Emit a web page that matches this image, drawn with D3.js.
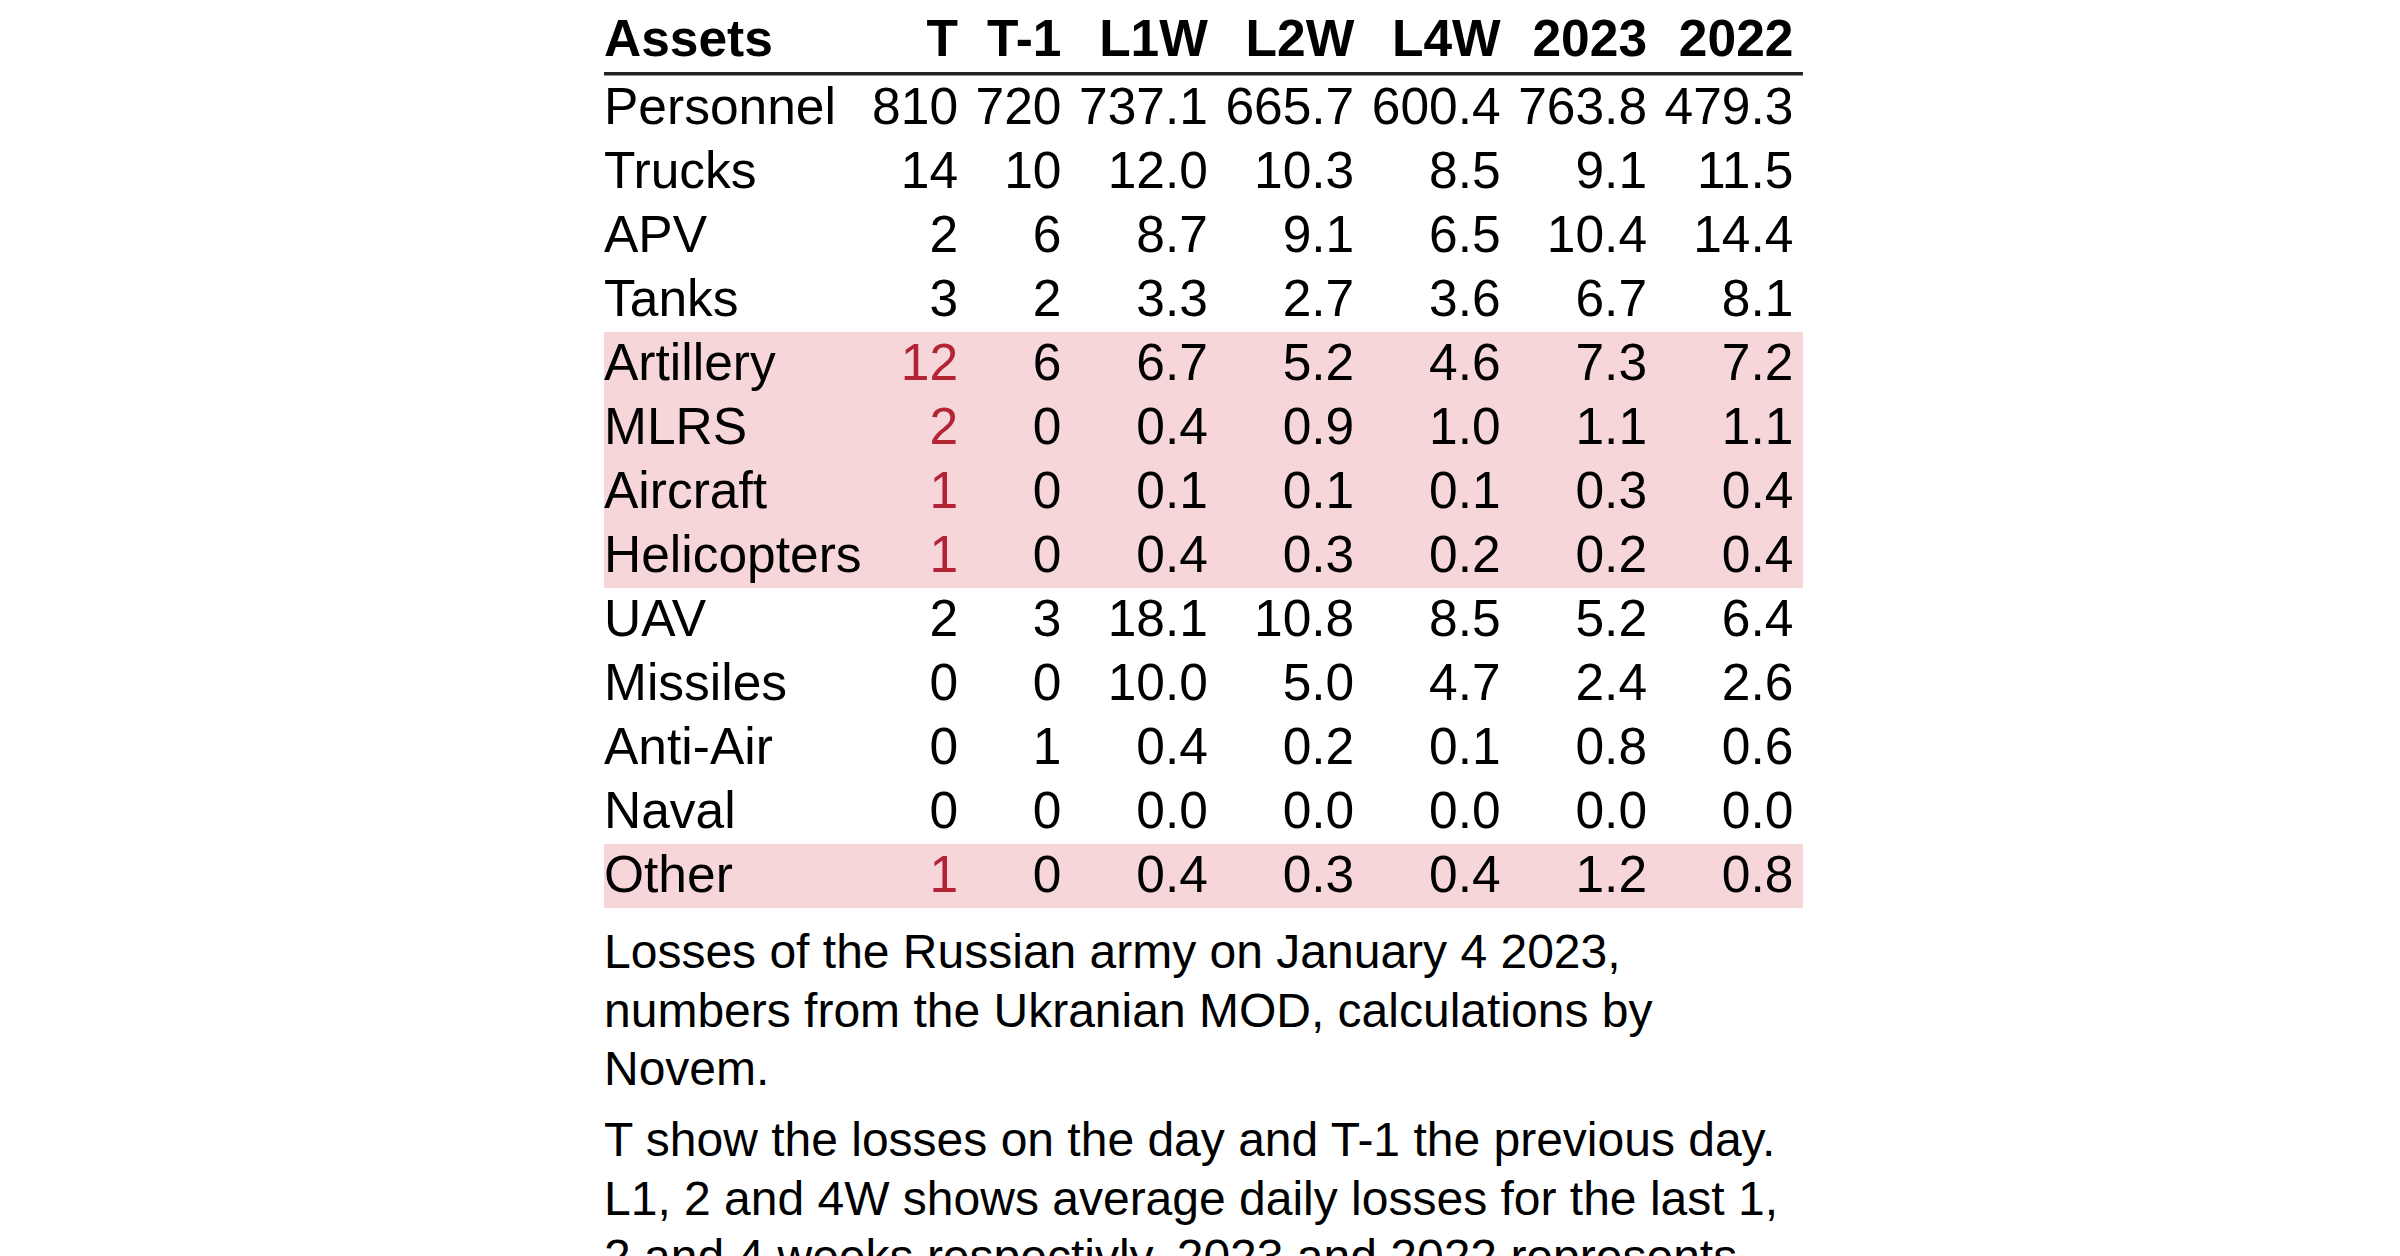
<!DOCTYPE html>
<html>
<head>
<meta charset="utf-8">
<script src="https://cdn.jsdelivr.net/npm/d3@7"></script>
<style>
  html, body { margin: 0; padding: 0; background: #fff; }
  svg { display: block; font-family: "Liberation Sans", Arial, sans-serif; }
</style>
</head>
<body>
<svg id="chart"></svg>
<script>
// table data
const assets = ["Personnel", "Trucks", "APV", "Tanks", "Artillery", "MLRS", "Aircraft",
    "Helicopters", "UAV", "Missiles", "Anti-Air", "Naval", "Other"];
const columns = ["T", "T-1", "L1W", "L2W", "L4W", "2023", "2022"];
const valT    = [810, 14, 2, 3, 12, 2, 1, 1, 2, 0, 0, 0, 1];
const valT1   = [720, 10, 6, 2, 6, 0, 0, 0, 3, 0, 1, 0, 0];
const valL1W  = [737.1, 12.0, 8.7, 3.3, 6.7, 0.4, 0.1, 0.4, 18.1, 10.0, 0.4, 0.0, 0.4];
const valL2W  = [665.7, 10.3, 9.1, 2.7, 5.2, 0.9, 0.1, 0.3, 10.8, 5.0, 0.2, 0.0, 0.3];
const valL4W  = [600.4, 8.5, 6.5, 3.6, 4.6, 1.0, 0.1, 0.2, 8.5, 4.7, 0.1, 0.0, 0.4];
const val2023 = [763.8, 9.1, 10.4, 6.7, 7.3, 1.1, 0.3, 0.2, 5.2, 2.4, 0.8, 0.0, 1.2];
const val2022 = [479.3, 11.5, 14.4, 8.1, 7.2, 1.1, 0.4, 0.4, 6.4, 2.6, 0.6, 0.0, 0.8];
const highlightRows = ["Artillery", "MLRS", "Aircraft", "Helicopters", "Other"];
const captionLines = [
    ["Losses of the Russian army on January 4 2023,",
     "numbers from the Ukranian MOD, calculations by",
     "Novem."],
    ["T show the losses on the day and T-1 the previous day.",
     "L1, 2 and 4W shows average daily losses for the last 1,",
     "2 and 4 weeks respectivly. 2023 and 2022 represents"]
];

const W = 2400, H = 1256;
const tableLeft = 604, tableTop = 76, rowH = 64;
const fontSize = 51.5, capSize = 48;
const padL = 8, padR = 9.5;
const pink = "#f7d6da", red = "#b22435";

const series = [valT, valT1, valL1W, valL2W, valL4W, val2023, val2022];
const fmt = (v, j) => j < 2 ? d3.format("d")(v) : d3.format(".1f")(v);

const svg = d3.select("#chart").attr("width", W).attr("height", H);
svg.append("rect").attr("width", W).attr("height", H).attr("fill", "#fff");

// measure text widths to size the columns like an auto table
const probe = svg.append("text").style("font-size", fontSize + "px");
function textW(s, bold) {
    probe.style("font-weight", bold ? "bold" : "normal").text(s);
    return probe.node().getComputedTextLength();
}
const w0 = d3.max([textW("Assets", true), ...assets.map(a => textW(a))]);
const colW = columns.map((c, j) =>
    d3.max([textW(c, true), ...series[j].map(v => textW(fmt(v, j)))]) + padL + padR);
probe.remove();

const col0W = w0 + 2.5;
const colRight = [];
let acc = tableLeft + col0W;
colW.forEach(w => { acc += w; colRight.push(acc - padR); });
const tableRight = acc;

const y = d3.scaleBand().domain(assets).range([tableTop, tableTop + assets.length * rowH]);
const x = d3.scaleOrdinal().domain(columns).range(colRight);

// highlighted rows
svg.append("g").selectAll("rect")
    .data(highlightRows)
    .enter().append("rect")
    .attr("x", tableLeft)
    .attr("y", d => y(d))
    .attr("width", tableRight - tableLeft)
    .attr("height", y.bandwidth())
    .attr("fill", pink);

// header
const head = svg.append("g").style("font-size", fontSize + "px").style("font-weight", "bold");
head.append("text").attr("x", tableLeft).attr("y", 56).text("Assets");
head.selectAll(".col")
    .data(columns)
    .enter().append("text")
    .attr("class", "col")
    .attr("x", d => x(d))
    .attr("y", 56)
    .attr("text-anchor", "end")
    .text(d => d);

svg.append("line")
    .attr("x1", tableLeft).attr("x2", tableRight)
    .attr("y1", 73.8).attr("y2", 73.8)
    .attr("stroke", "#222")
    .attr("stroke-width", 3.5);

// body
const body = svg.append("g").style("font-size", fontSize + "px");
const rows = body.selectAll(".row")
    .data(assets)
    .enter().append("g")
    .attr("class", "row")
    .attr("transform", d => `translate(0,${y(d) + 48})`);

rows.append("text").attr("x", tableLeft).text(d => d);

rows.selectAll(".cell")
    .data((d, i) => columns.map((c, j) => ({asset: d, col: c, j: j, v: series[j][i]})))
    .enter().append("text")
    .attr("class", "cell")
    .attr("x", d => x(d.col))
    .attr("text-anchor", "end")
    .attr("fill", d => d.j === 0 && highlightRows.includes(d.asset) ? red : "#000")
    .text(d => fmt(d.v, d.j));

// caption
const cap = svg.append("g").style("font-size", capSize + "px");
const paraTop = [968, 1156];
captionLines.forEach((lines, p) => {
    cap.selectAll(".p" + p)
        .data(lines)
        .enter().append("text")
        .attr("class", "p" + p)
        .attr("x", tableLeft)
        .attr("y", (d, k) => paraTop[p] + k * 58.5)
        .text(d => d);
});
</script>
</body>
</html>
